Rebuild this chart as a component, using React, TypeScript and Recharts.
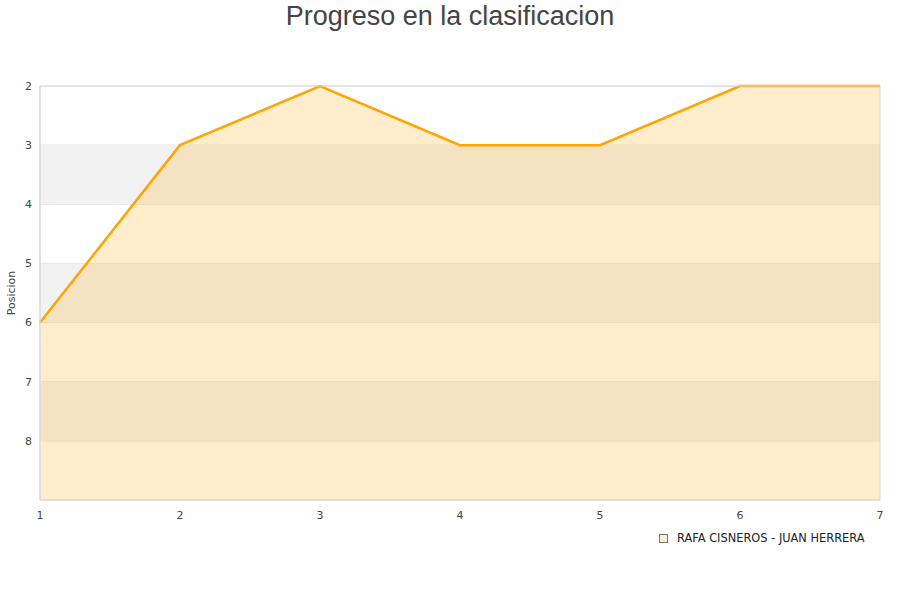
import React from 'react';
import {
  ComposedChart,
  Area,
  XAxis,
  YAxis,
  CartesianGrid,
  ReferenceArea,
} from 'recharts';

// Jornadas y posiciones
const jornadas = [1, 2, 3, 4, 5, 6, 7];
const posiciones = [6, 3, 2, 3, 3, 2, 2];
const yTicks = [2, 3, 4, 5, 6, 7, 8];
const xTicks = [1, 2, 3, 4, 5, 6, 7];
// franjas grises alternas (valores de posición)
const bandas = [
  [3, 4],
  [5, 6],
  [7, 8],
];
const serieNombre = 'RAFA CISNEROS - JUAN HERRERA';

const data = jornadas.map((j, i) => ({ jornada: j, pos: posiciones[i] }));

const FONT = '"DejaVu Sans", Verdana, sans-serif';

export default function App() {
  return (
    <div style={{ position: 'absolute', left: 0, top: 0, width: 900, height: 600, background: '#fff' }}>
      <div
        style={{
          position: 'absolute',
          left: 0,
          top: 0,
          width: 900,
          textAlign: 'center',
          fontFamily: '"Liberation Sans", Arial, sans-serif',
          fontSize: 27,
          color: '#444',
          lineHeight: '32px',
        }}
      >
        Progreso en la clasificacion
      </div>
      <ComposedChart
        width={900}
        height={600}
        data={data}
        margin={{ top: 86, right: 20, left: 10, bottom: 70 }}
      >
        {/* bandas alternas */}
        {bandas.map(([a, b]) => (
          <ReferenceArea key={a} x1={1} x2={7} y1={a} y2={b} fill="#f2f2f2" fillOpacity={1} stroke="none" />
        ))}
        <CartesianGrid vertical={false} stroke="#e0e0e0" strokeDasharray="" />
        <XAxis
          dataKey="jornada"
          type="number"
          domain={[1, 7]}
          ticks={xTicks}
          height={30}
          tickLine={false}
          tickMargin={5}
          axisLine={{ stroke: '#d9d9d9' }}
          tick={{ fontSize: 11, fill: '#444', fontFamily: FONT }}
        />
        <YAxis
          type="number"
          domain={[2, 9]}
          ticks={yTicks}
          reversed
          width={30}
          tickLine={false}
          axisLine={{ stroke: '#d9d9d9' }}
          tick={{ fontSize: 11, fill: '#444', fontFamily: FONT }}
          label={(props: any) => {
            const vb = props.viewBox || {};
            const cx = 11;
            const cy = (vb.y ?? 86) + (vb.height ?? 414) / 2;
            return (
              <text
                x={cx}
                y={cy}
                transform={`rotate(-90 ${cx} ${cy})`}
                textAnchor="middle"
                dominantBaseline="central"
                fontSize={11}
                fill="#444"
                fontFamily={FONT}
              >
                Posicion
              </text>
            );
          }}
        />
        <Area
          type="linear"
          dataKey="pos"
          baseValue={9}
          stroke="#ffa500"
          strokeWidth={2.5}
          fill="#ffa500"
          fillOpacity={0.2}
          dot={false}
          activeDot={false}
          isAnimationActive={false}
          name={serieNombre}
        />
        {/* borde del área de trazado */}
        <ReferenceArea x1={1} x2={7} y1={2} y2={9} fill="none" stroke="#d9d9d9" strokeWidth={1} />
      </ComposedChart>
      <div
        style={{
          position: 'absolute',
          left: 659,
          top: 531,
          display: 'flex',
          alignItems: 'center',
          fontFamily: FONT,
          fontSize: 11.4,
          color: '#222',
        }}
      >
        <span
          style={{
            display: 'inline-block',
            width: 7,
            height: 7,
            background: '#ffedcc',
            border: '1px solid #777',
            marginRight: 9,
          }}
        />
        {serieNombre}
      </div>
    </div>
  );
}
